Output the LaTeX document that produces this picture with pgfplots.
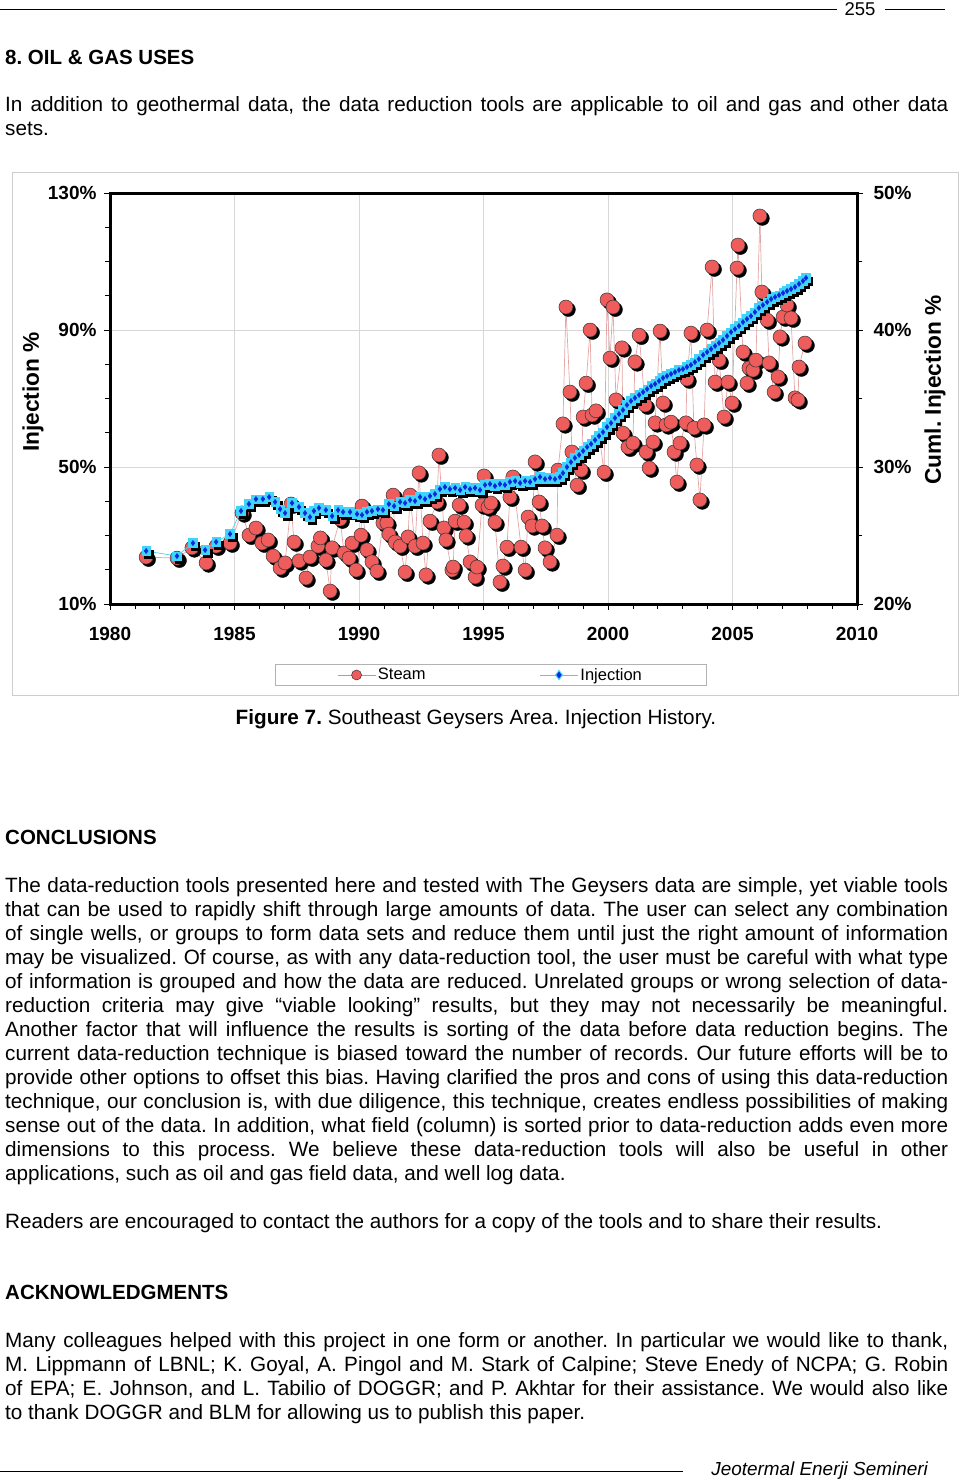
\documentclass[border=0pt]{standalone}
\usepackage{fontspec}
\setmainfont{Liberation Sans}
\usepackage{pgfplots}
\usepackage{pgfplotstable}
\pgfplotsset{compat=1.18}
\frenchspacing
\definecolor{steamred}{RGB}{238,92,92}
\definecolor{steamline}{RGB}{228,165,165}
\definecolor{injcyan}{RGB}{64,212,252}
\definecolor{injblue}{RGB}{10,40,220}
\definecolor{gridgray}{RGB}{215,215,215}
\definecolor{framegray}{RGB}{205,205,205}

\pgfplotstableread{
x y
1981.45 23.7
1982.69 23.4
1983.29 26.4
1983.86 22.0
1984.26 26.9
1984.82 27.8
1985.30 36.6
1985.58 30.1
1985.86 32.2
1986.10 27.8
1986.35 28.7
1986.55 24.0
1986.83 20.5
1987.03 22.0
1987.27 39.2
1987.39 28.1
1987.59 22.6
1987.87 17.6
1988.03 23.7
1988.35 26.9
1988.45 29.3
1988.67 22.8
1988.84 13.8
1988.92 26.4
1989.24 34.8
1989.40 24.9
1989.60 23.4
1989.72 27.8
1989.88 19.9
1990.08 30.1
1990.12 38.6
1990.32 25.8
1990.52 22.3
1990.72 19.6
1990.96 33.7
1991.12 33.7
1991.20 30.4
1991.37 41.8
1991.45 28.1
1991.65 26.9
1991.85 19.3
1991.97 29.6
1992.05 41.8
1992.25 26.9
1992.41 48.3
1992.57 27.8
1992.69 18.5
1992.85 34.2
1993.13 39.8
1993.21 53.5
1993.41 32.2
1993.49 28.7
1993.73 19.9
1993.78 20.8
1993.86 34.2
1994.02 38.9
1994.22 33.9
1994.30 29.9
1994.46 22.3
1994.66 17.9
1994.74 20.8
1994.94 38.9
1995.02 47.4
1995.18 38.3
1995.30 39.5
1995.46 33.9
1995.66 16.4
1995.78 21.1
1995.94 26.6
1996.06 41.2
1996.18 47.1
1996.51 26.6
1996.67 19.9
1996.79 35.4
1996.95 32.8
1997.07 51.5
1997.23 39.8
1997.35 32.8
1997.47 26.4
1997.67 22.3
1997.95 30.1
1997.99 49.1
1998.19 62.6
1998.31 96.7
1998.47 71.9
1998.55 54.4
1998.76 44.7
1998.92 49.1
1999.00 64.6
1999.12 74.5
1999.28 90.0
1999.36 65.2
1999.52 66.4
1999.84 48.5
1999.96 98.8
2000.08 81.8
2000.20 96.7
2000.32 69.6
2000.56 84.8
2000.60 59.9
2000.80 55.8
2001.00 57.0
2001.08 80.7
2001.25 88.5
2001.49 68.1
2001.53 54.4
2001.65 49.7
2001.81 57.3
2001.89 62.9
2002.09 89.7
2002.21 68.7
2002.33 62.3
2002.53 63.1
2002.65 54.4
2002.77 45.6
2002.89 57.0
2003.13 62.9
2003.17 75.7
2003.33 89.1
2003.45 61.4
2003.57 50.6
2003.69 40.4
2003.86 62.3
2003.98 90.0
2004.18 108.4
2004.30 74.8
2004.46 81.2
2004.66 64.6
2004.82 74.8
2004.98 68.7
2005.18 108.1
2005.22 114.8
2005.42 83.6
2005.58 74.5
2005.66 78.9
2005.82 78.3
2005.94 81.2
2006.10 123.3
2006.18 101.1
2006.39 92.9
2006.47 80.4
2006.67 71.9
2006.83 76.3
2006.91 88.0
2007.03 93.8
2007.19 97.3
2007.35 93.5
2007.51 70.2
2007.63 69.6
2007.67 79.2
2007.91 86.2
}\steamdata

\pgfplotstableread{
x y
1981.45 23.87
1982.69 23.50
1983.33 24.45
1983.82 23.94
1984.26 24.53
1984.82 25.11
1985.26 26.79
1985.58 27.30
1985.86 27.66
1986.14 27.66
1986.39 27.81
1986.63 27.45
1986.83 26.93
1987.03 26.64
1987.31 27.37
1987.59 27.08
1987.83 26.64
1988.03 26.35
1988.19 26.79
1988.39 27.01
1988.67 26.86
1988.92 26.42
1989.16 26.86
1989.36 26.72
1989.64 26.72
1989.92 26.57
1990.12 26.50
1990.32 26.72
1990.52 26.79
1990.76 26.93
1990.96 26.86
1991.20 27.30
1991.41 27.15
1991.65 27.45
1991.85 27.37
1992.05 27.59
1992.25 27.52
1992.45 27.81
1992.65 27.66
1992.85 27.88
1993.05 28.03
1993.25 28.39
1993.45 28.54
1993.65 28.39
1993.86 28.47
1994.06 28.32
1994.26 28.54
1994.46 28.39
1994.66 28.47
1994.86 28.32
1995.06 28.69
1995.26 28.76
1995.46 28.61
1995.66 28.76
1995.86 28.69
1996.06 28.91
1996.27 28.98
1996.47 28.83
1996.67 28.98
1996.87 28.91
1997.07 29.12
1997.27 29.27
1997.47 29.12
1997.67 29.20
1997.87 29.12
1998.07 29.27
1998.19 29.56
1998.35 30.00
1998.51 30.36
1998.67 30.66
1998.84 30.88
1999.00 31.17
1999.16 31.46
1999.32 31.68
1999.48 31.97
1999.64 32.26
1999.80 32.55
1999.96 32.92
2000.12 33.21
2000.28 33.58
2000.44 33.87
2000.60 34.16
2000.76 34.53
2000.92 34.82
2001.08 35.04
2001.25 35.26
2001.41 35.47
2001.57 35.69
2001.73 35.91
2001.89 36.06
2002.05 36.28
2002.21 36.50
2002.37 36.64
2002.53 36.79
2002.69 36.93
2002.85 37.08
2003.01 37.15
2003.17 37.30
2003.33 37.45
2003.49 37.66
2003.65 37.88
2003.82 38.18
2003.98 38.39
2004.14 38.61
2004.30 38.83
2004.46 39.05
2004.62 39.27
2004.78 39.56
2004.94 39.85
2005.10 40.07
2005.26 40.29
2005.42 40.58
2005.58 40.80
2005.74 41.02
2005.90 41.31
2006.06 41.61
2006.22 41.82
2006.39 42.04
2006.55 42.26
2006.71 42.41
2006.87 42.55
2007.03 42.70
2007.19 42.85
2007.35 42.99
2007.51 43.14
2007.67 43.36
2007.83 43.58
2007.95 43.80
}\injdata

\newcommand{\bodyfont}{\fontsize{20.7}{24}\selectfont}
\newcommand{\jline}[2]{\node[anchor=base west,inner sep=0pt,font=\bodyfont] at (5pt,-#1pt) {\makebox[943pt][s]{#2}};}
\newcommand{\lline}[2]{\node[anchor=base west,inner sep=0pt,font=\bodyfont] at (5pt,-#1pt) {#2};}

\begin{document}
\begin{tikzpicture}
\useasboundingbox (0pt,0pt) rectangle (960pt,-1480pt);
% header
\draw[line width=0.9pt] (0pt,-9pt) -- (837pt,-9pt);
\draw[line width=0.9pt] (885pt,-9pt) -- (945pt,-9pt);
\node[font=\fontsize{18.5}{20}\selectfont] at (860pt,-9pt) {255};
\node[anchor=base west,inner sep=0pt,font=\bfseries\fontsize{20.5}{24}\selectfont] at (5pt,-64pt) {8. OIL \& GAS USES};
\jline{111}{In addition to geothermal data, the data reduction tools are applicable to oil and gas and other data}
\lline{135}{sets.}

% figure frame
\draw[framegray, line width=1pt] (12pt,-172pt) rectangle (958pt,-695pt);

\begin{axis}[
  at={(110pt,-604pt)}, anchor=south west,
  scale only axis, width=747pt, height=411pt,
  xmin=1980, xmax=2010, ymin=10, ymax=130,
  axis line style={line width=3pt},
  xtick={1980,1985,1990,1995,2000,2005,2010},
  xticklabels={1980,1985,1990,1995,2000,2005,2010},
  minor x tick num=4,
  ytick={10,50,90,130},
  yticklabels={10\%,50\%,90\%,130\%},
  minor ytick={20,30,40,60,70,80,100,110,120},
  xtick pos=left, ytick pos=left,
  xmajorgrids, ymajorgrids,
  grid style={gridgray, line width=0.8pt},
  tick align=outside, major tick length=6pt, minor tick length=5pt,
  tick style={black, line width=0.8pt},
  ticklabel style={font=\bfseries\fontsize{19}{20}\selectfont},
  xticklabel style={yshift=-14pt},
  yticklabel style={xshift=-4pt},
  clip=false,
]
\addplot[forget plot, only marks, mark=*, mark size=7pt,
  mark options={fill=black, draw=black, xshift=2.5pt, yshift=-2.5pt}] table {\steamdata};
\addplot[forget plot, color=steamline, line width=0.7pt, mark=*, mark size=7pt,
  mark options={fill=steamred, draw=black!80, line width=0.5pt}] table {\steamdata};
\end{axis}

\begin{axis}[
  at={(110pt,-604pt)}, anchor=south west,
  scale only axis, width=747pt, height=411pt,
  xmin=1980, xmax=2010, ymin=20, ymax=50,
  axis x line=none, axis y line*=right,
  axis line style={line width=3pt},
  ytick={20,30,40,50},
  yticklabels={20\%,30\%,40\%,50\%},
  minor ytick={25,35,45},
  tick align=outside, major tick length=6pt, minor tick length=5pt,
  tick style={black, line width=0.8pt},
  ticklabel style={font=\bfseries\fontsize{19}{20}\selectfont},
  yticklabel style={xshift=7pt},
  clip=false,
  legend image code/.code={\draw[mark repeat=2,mark phase=2,#1] plot coordinates {(0pt,0pt) (19pt,0pt) (38pt,0pt)};},
  legend columns=2,
  legend style={at={(0.5094,-0.1727)}, anchor=center, draw=gray!60, line width=0.8pt,
    font=\fontsize{16.5}{18}\selectfont, inner xsep=62pt, inner ysep=1.5pt,
    /tikz/every even column/.append style={column sep=112pt}},
]
\addlegendimage{color=steamline!80!red, line width=0.8pt, mark=*, mark size=5pt, mark options={fill=steamred, draw=black!80, line width=0.5pt}}
\addlegendentry{Steam}
\addlegendimage{color=injcyan, line width=0.8pt, mark=diamond*, mark size=4.5pt, mark options={fill=injblue, draw=injcyan, line width=1pt}}
\addlegendentry{Injection}
\addplot[forget plot, only marks, mark=square*, mark size=4.2pt,
  mark options={fill=black, draw=black, xshift=2.5pt, yshift=-3pt}] table {\injdata};
\addplot[forget plot, color=injcyan, line width=0.7pt, mark=square*, mark size=4.2pt,
  mark options={fill=injcyan, draw=injcyan}] table {\injdata};
\addplot[forget plot, only marks, mark=diamond*, mark size=2.6pt,
  mark options={fill=injblue, draw=injblue}] table {\injdata};
\end{axis}

\node[rotate=90, font=\bfseries\fontsize{22.7}{24}\selectfont] at (33pt,-392pt) {Injection \%};
\node[rotate=90, font=\bfseries\fontsize{22.7}{24}\selectfont] at (935pt,-390pt) {Cuml. Injection \%};

\node[font=\bodyfont] at (476pt,-719pt) {\textbf{Figure 7.} Southeast Geysers Area. Injection History.};

\node[anchor=base west,inner sep=0pt,font=\bfseries\fontsize{20.5}{24}\selectfont] at (5pt,-844pt) {CONCLUSIONS};
\jline{892}{The data-reduction tools presented here and tested with The Geysers data are simple, yet viable tools}
\jline{916}{that can be used to rapidly shift through large amounts of data. The user can select any combination}
\jline{940}{of single wells, or groups to form data sets and reduce them until just the right amount of information}
\jline{964}{may be visualized. Of course, as with any data-reduction tool, the user must be careful with what type}
\jline{988}{of information is grouped and how the data are reduced. Unrelated groups or wrong selection of data-}
\jline{1012}{reduction criteria may give “viable looking” results, but they may not necessarily be meaningful.}
\jline{1036}{Another factor that will influence the results is sorting of the data before data reduction begins. The}
\jline{1060}{current data-reduction technique is biased toward the number of records. Our future efforts will be to}
\jline{1084}{provide other options to offset this bias. Having clarified the pros and cons of using this data-reduction}
\jline{1108}{technique, our conclusion is, with due diligence, this technique, creates endless possibilities of making}
\jline{1132}{sense out of the data. In addition, what field (column) is sorted prior to data-reduction adds even more}
\jline{1156}{dimensions to this process. We believe these data-reduction tools will also be useful in other}
\lline{1180}{applications, such as oil and gas field data, and well log data.}
\lline{1228}{Readers are encouraged to contact the authors for a copy of the tools and to share their results.}

\node[anchor=base west,inner sep=0pt,font=\bfseries\fontsize{20.5}{24}\selectfont] at (5pt,-1299pt) {ACKNOWLEDGMENTS};
\jline{1347}{Many colleagues helped with this project in one form or another. In particular we would like to thank,}
\jline{1371}{M. Lippmann of LBNL; K. Goyal, A. Pingol and M. Stark of Calpine; Steve Enedy of NCPA; G. Robin}
\jline{1395}{of EPA; E. Johnson, and L. Tabilio of DOGGR; and P. Akhtar for their assistance. We would also like}
\lline{1419}{to thank DOGGR and BLM for allowing us to publish this paper.}

% footer
\draw[line width=0.9pt] (0pt,-1471pt) -- (683pt,-1471pt);
\node[anchor=base east,inner sep=0pt,font=\itshape\fontsize{18.9}{20}\selectfont] at (928pt,-1475pt) {Jeotermal Enerji Semineri};
\end{tikzpicture}
\end{document}
